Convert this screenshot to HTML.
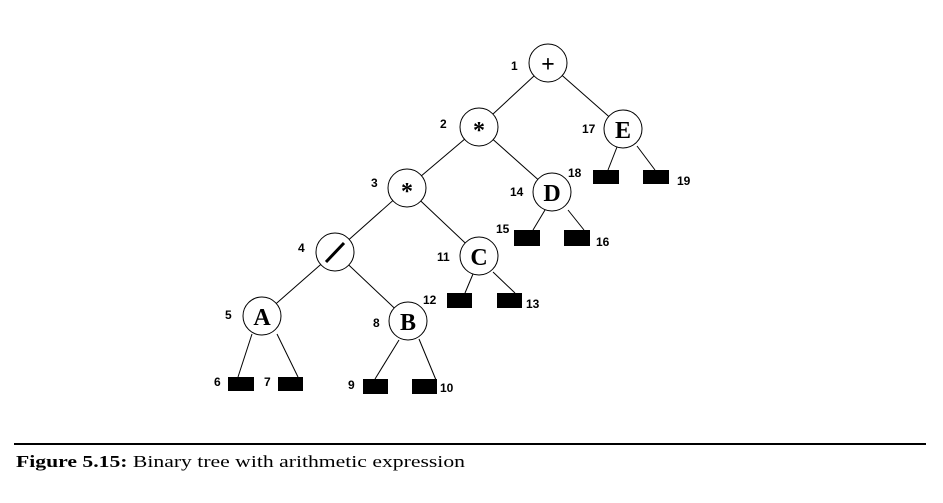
<!DOCTYPE html>
<html><head><meta charset="utf-8"><style>
html,body{margin:0;padding:0;background:#fff;width:943px;height:503px;overflow:hidden}
svg{display:block}
.n{font-family:"Liberation Sans",sans-serif;font-weight:bold;font-size:12px;fill:#000}
.s{font-family:"Liberation Serif",serif;font-weight:bold;font-size:24px;fill:#000;text-anchor:middle}
</style></head><body>
<svg width="943" height="503" viewBox="0 0 943 503">
<g stroke="#000" stroke-width="1" fill="none">
<line x1="548" y1="63" x2="479" y2="127"/>
<line x1="548" y1="63" x2="623" y2="129"/>
<line x1="479" y1="127" x2="407" y2="188"/>
<line x1="479" y1="127" x2="552" y2="192"/>
<line x1="407" y1="188" x2="335" y2="252"/>
<line x1="407" y1="188" x2="479" y2="256"/>
<line x1="335" y1="252" x2="262" y2="316"/>
<line x1="335" y1="252" x2="408" y2="321"/>
<line x1="252" y1="334" x2="238" y2="377"/>
<line x1="277" y1="334" x2="298" y2="377"/>
<line x1="399" y1="340" x2="375" y2="379"/>
<line x1="419" y1="339" x2="436" y2="380"/>
<line x1="473" y1="274" x2="465" y2="293"/>
<line x1="493" y1="272" x2="515" y2="293"/>
<line x1="545" y1="210" x2="533" y2="230"/>
<line x1="568" y1="210" x2="584" y2="230"/>
<line x1="617" y1="147" x2="608" y2="170"/>
<line x1="637" y1="146" x2="655" y2="170"/>
</g>
<g fill="#fff" stroke="#000" stroke-width="1">
<circle cx="548" cy="63" r="19"/>
<circle cx="479" cy="127" r="19"/>
<circle cx="623" cy="129" r="19"/>
<circle cx="407" cy="188" r="19"/>
<circle cx="552" cy="192" r="19"/>
<circle cx="335" cy="252" r="19"/>
<circle cx="479" cy="256" r="19"/>
<circle cx="262" cy="316" r="19"/>
<circle cx="408" cy="321" r="19"/>
</g>
<g fill="#000">
<rect x="228" y="377" width="26" height="14"/>
<rect x="278" y="377" width="25" height="14"/>
<rect x="363" y="379" width="25" height="15"/>
<rect x="412" y="379" width="25" height="15"/>
<rect x="447" y="293" width="25" height="15"/>
<rect x="497" y="293" width="25" height="15"/>
<rect x="514" y="230" width="26" height="16"/>
<rect x="564" y="230" width="26" height="16"/>
<rect x="593" y="170" width="26" height="14"/>
<rect x="643" y="170" width="26" height="14"/>
</g>
<g class="s">
<text x="548" y="72">+</text>
<text x="479" y="138">*</text>
<text x="407" y="199">*</text>
<text x="623" y="138">E</text>
<text x="552" y="201">D</text>
<text x="479" y="265">C</text>
<text x="262" y="325">A</text>
<text x="408" y="330">B</text>
</g>
<line x1="326" y1="262" x2="344" y2="243" stroke="#000" stroke-width="3"/>
<g class="n">
<text x="511" y="70">1</text>
<text x="440" y="128">2</text>
<text x="582" y="133">17</text>
<text x="371" y="187">3</text>
<text x="510" y="196">14</text>
<text x="298" y="252">4</text>
<text x="437" y="261">11</text>
<text x="225" y="319">5</text>
<text x="373" y="327">8</text>
<text x="568" y="177">18</text>
<text x="677" y="185">19</text>
<text x="496" y="233">15</text>
<text x="596" y="246">16</text>
<text x="423" y="304">12</text>
<text x="526" y="308">13</text>
<text x="214" y="386">6</text>
<text x="264" y="386">7</text>
<text x="348" y="389">9</text>
<text x="440" y="392">10</text>
</g>
<rect x="14" y="443" width="912" height="2" fill="#000"/>
<text x="16" y="467" font-family="Liberation Serif,serif" font-size="17" fill="#000" textLength="449" lengthAdjust="spacingAndGlyphs"><tspan font-weight="bold">Figure 5.15:</tspan> Binary tree with arithmetic expression</text>
</svg>
</body></html>
